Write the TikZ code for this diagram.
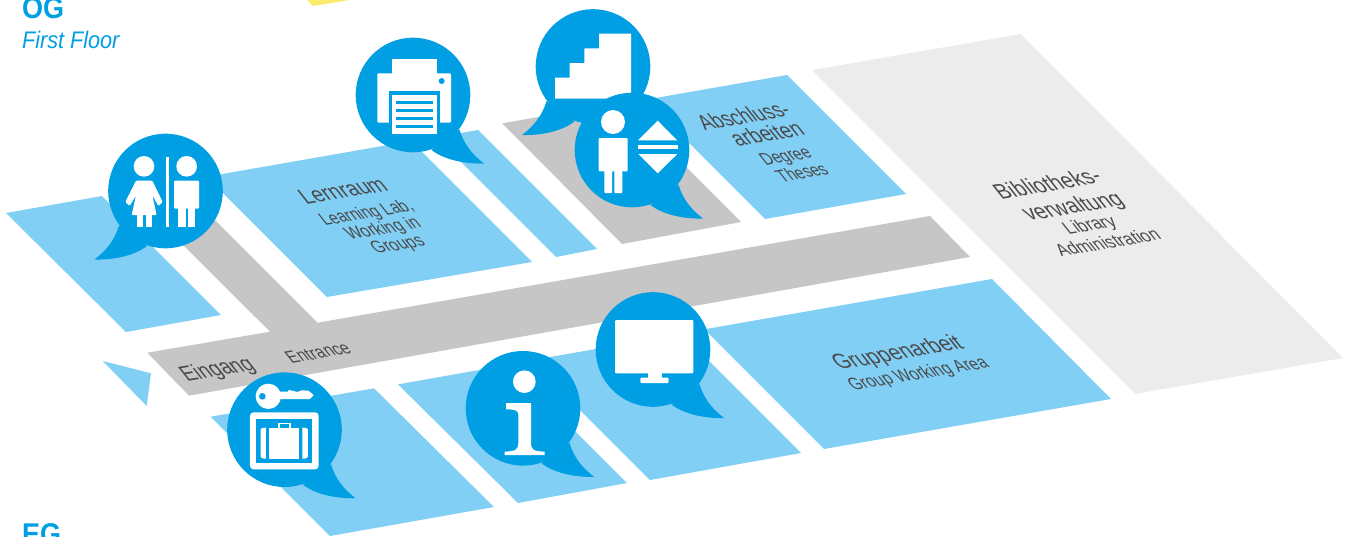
\documentclass[tikz,border=0pt]{standalone}
\usepackage{fontspec}
\setmainfont{Liberation Sans}[FakeStretch=.9]
\definecolor{bub}{HTML}{009FE3}
\definecolor{lblue}{HTML}{82CFF5}
\definecolor{cgray}{HTML}{C6C6C6}
\definecolor{agray}{HTML}{ECECEC}
\definecolor{ink}{HTML}{4A4A4A}
\definecolor{yel}{HTML}{FBEC6B}
\tikzset{
  room/.style={fill=lblue},
  corr/.style={fill=cgray},
  skewt/.style={cm={1,.172,-.75,.95,(0,0)},xshift=2pt,text=ink,anchor=base,inner sep=0pt},
  ttl/.style={skewt,font=\fontsize{21}{21}\selectfont},
  subt/.style={skewt,font=\fontsize{17}{17}\selectfont},
  bubbleR/.pic={
    \fill[bub] (0,0) circle [radius=57.3];
    \fill[bub] (46.5,34.5) .. controls (51,50) and (60,60) .. (71,68.5)
       .. controls (55,69) and (33,66) .. (18.5,55) -- cycle;},
  bubbleL/.pic={
    \fill[bub] (0,0) circle [radius=57.3];
    \fill[bub] (-46.5,34.5) .. controls (-51,50) and (-60,60) .. (-71,68.5)
       .. controls (-55,69) and (-33,66) .. (-18.5,55) -- cycle;},
  ic/.style={fill=white},
  ib/.style={fill=bub},
}
\begin{document}
\begin{tikzpicture}[x=1pt,y=-1pt]
\useasboundingbox (0,0) rectangle (1353,536);
\clip (0,0) rectangle (1353,536);
% yellow
\fill[yel] (307,0) -- (313,6) -- (350,0) -- cycle;
% administration
\fill[agray] (812,70) -- (1021,34) -- (1343,358) -- (1135,394) -- cycle;
% corridors
\fill[corr] (147.3,352.7) -- (270,331.7) -- (178,240) -- (205,210) -- (317.7,322.7) -- (930,216) -- (970,257) -- (189,395.7) -- cycle;
\fill[corr] (502.3,123.3) -- (621.5,102.5) -- (741,222) -- (622,244) -- cycle;
% rooms upper
\fill[room] (6,213) -- (102,196) -- (221,315) -- (126,332) -- cycle;
\fill[room] (206.7,176.7) -- (411,141) -- (532,262) -- (327,297) -- cycle;
\fill[room] (436.3,137.3) -- (478,130) -- (597,249) -- (556,257) -- cycle;
\fill[room] (645.7,99.7) -- (787,75) -- (906,194) -- (765,219) -- cycle;
% rooms lower
\fill[room] (210.7,416.7) -- (374,388.3) -- (494,507) -- (330,536) -- cycle;
\fill[room] (398,384.4) -- (508.7,364.7) -- (627,483) -- (518,503) -- cycle;
\fill[room] (530.4,360.4) -- (682,334) -- (801,453) -- (650,480) -- cycle;
\fill[room] (704.3,329.3) -- (992,279) -- (1111,399) -- (824,449) -- cycle;
% entrance arrow
\fill[room] (102.7,361) -- (151,373.3) -- (146.7,406) -- cycle;
% headings
\node[anchor=base west,inner sep=0pt,text=bub,font=\fontsize{30}{30}\selectfont\bfseries] (og) at (22,18) {OG};
\node[anchor=base west,inner sep=0pt,text=bub,font=\fontsize{24}{24}\selectfont\itshape] (ff) at (22,48) {First Floor};
\node[anchor=base west,inner sep=0pt,text=bub,font=\fontsize{30}{30}\selectfont\bfseries] (fg) at (22,544) {EG};
% labels
\node[ttl,xscale=1.03] (lern1) at (346,197.8) {Lernraum};
\node[subt,xscale=.96] (lern2) at (368.3,218.3) {Learning Lab,};
\node[subt] (lern3) at (384.5,234) {Working in};
\node[subt] (lern4) at (399.5,250) {Groups};
\node[ttl,xscale=.95] (abs1) at (747,123.3) {Abschluss-};
\node[ttl] (abs2) at (770.3,141) {arbeiten};
\node[subt,xscale=.95] (abs3) at (787.7,161.7) {Degree};
\node[subt,xscale=.95] (abs4) at (804.3,178.3) {Theses};
\node[ttl,xscale=1.05] (bib1) at (1050.7,191) {Bibliotheks-};
\node[ttl,xscale=1.05] (bib2) at (1075.7,213) {verwaltung};
\node[subt,xscale=1.06] (bib3) at (1091.7,230.3) {Library};
\node[subt,xscale=1.04] (bib4) at (1110,248.3) {Administration};
\node[ttl,xscale=1.04] (grp1) at (900.3,359.3) {Gruppenarbeit};
\node[subt,xscale=.98] (grp2) at (920,379.3) {Group Working Area};
\node[ttl] (ein) at (220,375.7) {Eingang};
\node[subt] (ent) at (320.3,358.3) {Entrance};
% bubbles
\pic at (165.5,191) {bubbleL};
\pic at (413,95) {bubbleR};
\pic at (593,66.5) {bubbleL};
% WC icon
\begin{scope}[shift={(90,120)},scale=1/3]
\fill[ic] (162,139) circle [radius=31];
\fill[ic,rounded corners=1] (138,182) -- (187,182) -- (218,246) -- (205,258) -- (187,226) -- (200,285) -- (125,285) -- (138,226) -- (119,258) -- (106,246) -- cycle;
\fill[ic] (140,285) rectangle (158,322);
\fill[ic] (167,285) rectangle (185,322);
\fill[ic] (228,110) rectangle (237,322);
\fill[ic] (290,139) circle [radius=31];
\fill[ic,rounded corners=1] (252,182) rectangle (327,266);
\fill[ic] (265,262) rectangle (287,322);
\fill[ic] (293,262) rectangle (315,322);
\end{scope}
% printer and stairs icons
\begin{scope}[shift={(340,0)},scale=1/3]
\fill[ic] (156,178) rectangle (291,225);
\fill[ic,rounded corners=1] (112,220) rectangle (333,368);
\fill[ib] (305,243) circle [radius=9];
\fill[ib] (146,274) rectangle (300,368);
\fill[ic] (155,284) rectangle (291,403);
\foreach \yy in {303,327,351,375}
  \fill[ib] (167,\yy) rectangle (279,\yy+9);
\fill[ic] (645,296) -- (645,233) -- (689,233) -- (689,189) -- (733,189) -- (733,145) -- (777,145) -- (777,101) -- (873,101) -- (873,296) -- cycle;
\end{scope}
\pic at (632,150) {bubbleR};
% person and lift icon
\begin{scope}[shift={(340,0)},scale=1/3]
\fill[ic] (819,366) circle [radius=36];
\fill[ic,rounded corners=1] (776,414) rectangle (863,514);
\fill[ic,rounded corners=.7] (793,505) rectangle (816,579);
\fill[ic,rounded corners=.7] (823,505) rectangle (847,579);
\fill[ic] (953,362) -- (1012,421) -- (894,421) -- cycle;
\fill[ic] (894,435) rectangle (1014,447);
\fill[ic] (895,462) -- (1012,462) -- (953,520) -- cycle;
\end{scope}
\pic at (284.5,429.7) {bubbleR};
% key and locker icon
\begin{scope}[shift={(90,290)},scale=1/3]
\fill[ic] (535,319) circle [radius=38];
\fill[ib] (517,319) circle [radius=10];
\fill[ic] (560,305) -- (593,305) -- (597,300) -- (610,303) -- (622,306) -- (635,301) -- (655,302) -- (671,315) -- (660,327) -- (560,327) -- cycle;
\fill[ic,rounded corners=3.5] (480,367) rectangle (686,538);
\fill[ib] (499,386) rectangle (667,518);
\fill[ic] (537,413) rectangle (627,506);
\fill[ic] (565,398) rectangle (602,413);
\fill[ib] (570,403) rectangle (597,413);
\fill[ic] (512,418) .. controls (512,415) and (518,413) .. (528,413) -- (528,506) .. controls (518,506) and (512,504) .. (512,500) -- cycle;
\fill[ic] (637,413) .. controls (647,413) and (654,415) .. (654,418) -- (654,500) .. controls (654,504) and (647,506) .. (637,506) -- cycle;
\end{scope}
\pic at (523,408.3) {bubbleR};
\pic at (653,349.5) {bubbleR};
% info and monitor icons
\begin{scope}[shift={(450,280)},scale=1/3]
\fill[ic] (223,305) circle [radius=34];
\fill[ic] (168,369) -- (243,369) -- (243,490) .. controls (243,508) and (250,514) .. (284,515) -- (284,525) -- (164,525) -- (164,515) .. controls (198,514) and (205,508) .. (205,490) -- (205,405) .. controls (205,392) and (198,388) .. (168,388) -- cycle;
\fill[ic,rounded corners=1] (495,120) rectangle (730,280);
\fill[ic] (593,278) rectangle (636,295);
\fill[ic,rounded corners=1] (571,293) rectangle (656,309);
\end{scope}
\end{tikzpicture}
\end{document}
